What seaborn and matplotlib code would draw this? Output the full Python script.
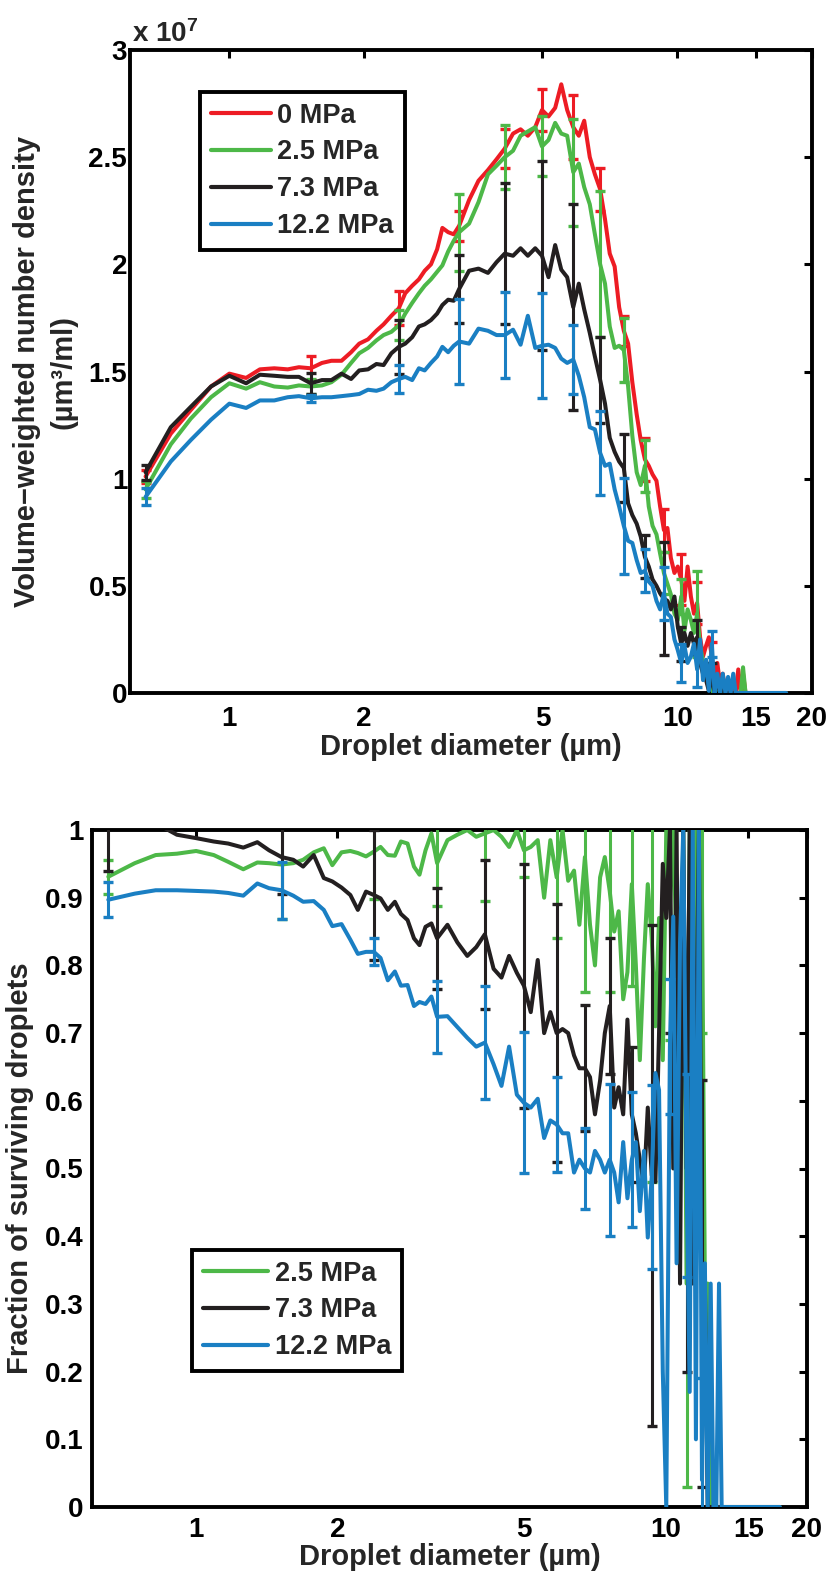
import numpy as np
import matplotlib
matplotlib.use("Agg")
import matplotlib.pyplot as plt
import seaborn as sns
from matplotlib.ticker import FixedLocator, FuncFormatter, NullLocator
from matplotlib.lines import Line2D

sns.set_style("white")
plt.rcParams['font.family'] = ['Liberation Sans', 'DejaVu Sans']
plt.rcParams['font.weight'] = 'bold'
plt.rcParams['mathtext.fontset'] = 'custom'
plt.rcParams['mathtext.rm'] = 'Liberation Sans:bold'
plt.rcParams['mathtext.bf'] = 'Liberation Sans:bold'
plt.rcParams['mathtext.default'] = 'bf'

# ---------------- data ----------------
diameter = [0.65, 0.74, 0.82, 0.91, 1.00, 1.09, 1.17, 1.26, 1.35, 1.43,
            1.52, 1.61, 1.69, 1.78, 1.87, 1.95, 2.04, 2.13, 2.21, 2.30,
            2.39, 2.47, 2.56, 2.65, 2.73, 2.82, 2.91, 2.99, 3.08, 3.17,
            3.26, 3.43, 3.60, 3.78, 3.95, 4.12, 4.30, 4.47, 4.64, 4.82,
            4.99, 5.16, 5.34, 5.51, 5.68, 5.86, 6.03, 6.20, 6.38, 6.55,
            6.73, 6.90, 7.07, 7.25, 7.42, 7.60, 7.77, 7.94, 8.12, 8.29,
            8.47, 8.64, 8.81, 8.99, 9.16, 9.34, 9.51, 9.68, 9.86, 10.03,
            10.21, 10.38, 10.55, 10.73, 10.90, 11.08, 11.25, 11.42, 11.60, 11.77,
            11.95, 12.12, 12.29, 12.47, 12.64, 12.82, 12.99, 13.16, 13.34, 13.51,
            13.69, 13.86, 14.03, 14.21, 14.38, 14.56, 14.73, 14.90, 15.08, 15.25,
            15.43, 15.60, 15.77, 15.95, 16.12, 16.30, 16.47, 16.64, 16.82, 16.99,
            17.17, 17.34, 17.51]

# volume-weighted number density, units of 1e6 um^3/ml
vol_0 = [10.1, 12.1, 13.2, 14.3, 14.9, 14.7, 15.1, 15.15, 15.1, 15.2,
         15.15, 15.4, 15.5, 15.5, 15.9, 16.3, 16.5, 16.9, 17.2, 17.6,
         17.95, 18.65, 19.0, 19.3, 19.7, 20.0, 20.7, 21.7, 21.5, 21.4,
         21.8, 23.0, 23.9, 24.4, 24.9, 25.4, 26.1, 26.3, 26.0, 26.4,
         27.2, 26.9, 27.3, 28.4, 27.2, 26.4, 26.0, 26.7, 25.0, 24.2,
         23.5, 22.1, 20.5, 19.9, 18.0, 16.9, 16.3, 14.5, 13.0, 11.8,
         10.9, 10.6, 10.2, 9.9, 8.7, 7.6, 7.7, 6.3, 5.6, 5.9,
         5.3, 4.3, 5.9, 4.5, 3.7, 4.2, 2.6, 1.7, 2.2, 2.6,
         1.7, 0.6, 1.4, 0.4, 0.9, 0.0, 0.6, 0.0, 0.6, 0.0,
         1.1, 0.0, 0.9, 0, 0, 0, 0, 0, 0, 0,
         0, 0, 0, 0, 0, 0, 0, 0, 0, 0,
         0, 0, 0]
vol_25 = [9.5, 11.6, 12.8, 13.8, 14.45, 14.2, 14.5, 14.3, 14.25, 14.35,
          14.3, 14.35, 14.5, 14.85, 15.4, 15.85, 16.1, 16.45, 16.7, 16.85,
          17.15, 17.7, 18.2, 18.65, 19.0, 19.3, 19.65, 19.95, 20.6, 21.1,
          21.5, 21.9, 22.9, 24.2, 24.6, 25.0, 25.3, 26.0, 26.2, 26.4,
          25.5, 25.8, 26.6, 26.1, 26.0, 24.3, 24.7, 23.6, 22.8, 21.4,
          20.0, 19.1, 17.1, 16.1, 16.2, 16.0, 14.3, 12.0, 10.3, 9.7,
          10.6, 8.7, 7.8, 7.4, 6.5, 5.6, 5.1, 4.6, 3.7, 3.4,
          4.5, 2.9, 3.9, 3.4, 2.8, 3.7, 2.2, 1.5, 1.1, 0.6,
          0.3, 0.0, 0.5, 0.0, 0.4, 0, 0, 0, 0, 0,
          0, 0, 1.2, 0, 0, 0, 0, 0, 0, 0,
          0, 0, 0, 0, 0, 0, 0, 0, 0, 0,
          0, 0, 0]
vol_73 = [10.3, 12.4, 13.35, 14.3, 14.8, 14.45, 14.85, 14.8, 14.75, 14.75,
          14.45, 14.6, 14.6, 14.9, 14.65, 15.05, 15.1, 15.35, 15.3, 15.85,
          16.15, 16.3, 16.6, 17.1, 17.2, 17.4, 17.7, 18.1, 18.35, 18.3,
          18.85, 19.7, 19.8, 19.6, 20.1, 20.5, 20.4, 20.75, 20.4, 20.75,
          20.4, 19.4, 20.9, 19.75, 19.4, 18.0, 19.1, 17.9, 16.8, 15.7,
          14.6, 13.5, 11.9, 11.25, 10.8, 10.5, 8.85, 8.3, 7.9, 7.3,
          6.35, 5.9, 5.3, 5.0, 4.65, 4.4, 4.3, 3.9, 4.5, 3.1,
          2.3, 2.8, 2.2, 2.8, 2.3, 2.6, 1.4, 0.9, 0.6, 0.1,
          0.9, 0.0, 0.6, 0.0, 0.3, 0, 0, 0, 0, 0,
          0, 0, 0, 0, 0, 0, 0, 0, 0, 0,
          0, 0, 0, 0, 0, 0, 0, 0, 0, 0,
          0, 0, 0]
vol_122 = [9.15, 10.8, 11.8, 12.75, 13.5, 13.3, 13.65, 13.65, 13.8, 13.85,
           13.75, 13.8, 13.8, 13.85, 13.9, 13.95, 14.15, 14.1, 14.2, 14.5,
           14.65, 14.75, 14.6, 15.15, 15.05, 15.4, 15.7, 16.15, 15.9, 16.2,
           16.4, 16.3, 17.0, 16.9, 16.7, 16.7, 16.95, 16.25, 17.6, 16.1,
           16.2, 16.25, 16.1, 15.6, 15.4, 15.55, 14.8, 13.8, 12.4, 12.3,
           11.2, 10.6, 10.7, 9.5, 8.7, 7.8, 7.1, 7.0, 6.2, 5.6,
           5.7, 5.2, 5.0, 4.3, 3.9, 4.65, 3.7, 3.55, 2.5, 2.0,
           1.4, 2.2, 1.4, 1.7, 2.3, 1.1, 2.5, 0.6, 1.55, 0.1,
           2.3, 0.0, 0.9, 0.0, 0.9, 0.0, 0.75, 0.0, 0.9, 0,
           0, 0, 0, 0, 0, 0, 0, 0, 0, 0,
           0, 0, 0, 0, 0, 0, 0, 0, 0, 0,
           0, 0, 0]

# fraction of surviving droplets
frac_25 = [0.931, 0.951, 0.963, 0.965, 0.969, 0.963, 0.953, 0.942, 0.952, 0.951,
           0.949, 0.951, 0.956, 0.967, 0.973, 0.948, 0.967, 0.969, 0.966, 0.961,
           0.968, 0.975, 0.963, 0.962, 0.983, 0.980, 0.946, 0.934, 0.970, 0.995,
           0.951, 0.985, 0.993, 1.0, 0.990, 0.995, 1.0, 0.990, 0.975, 1.0,
           0.970, 0.975, 0.985, 0.900, 0.985, 0.930, 1.0, 0.925, 0.940, 0.860,
           0.960, 0.860, 0.800, 0.930, 0.960, 0.910, 0.850, 0.880, 0.750, 0.790,
           0.920, 0.800, 0.660, 0.810, 0.920, 0.840, 0.710, 0.870, 0.660, 1.0,
           0.890, 1.0, 0.820, 0.550, 1.0, 0.330, 1.0, 0.600, 1.0, 0.500,
           0.900, 0.330, 0.330, 0.0, 0, 0, 0, 0, 0, 0,
           0, 0, 0, 0, 0, 0, 0, 0, 0, 0,
           0, 0, 0, 0, 0, 0, 0, 0, 0, 0,
           0, 0, 0]
frac_73 = [1.03, 1.03, 1.01, 0.993, 0.988, 0.983, 0.980, 0.974, 0.982, 0.970,
           0.960, 0.956, 0.946, 0.963, 0.929, 0.924, 0.915, 0.904, 0.882, 0.909,
           0.904, 0.899, 0.882, 0.894, 0.876, 0.867, 0.840, 0.830, 0.857, 0.862,
           0.840, 0.860, 0.834, 0.814, 0.827, 0.846, 0.795, 0.782, 0.814, 0.789,
           0.770, 0.731, 0.808, 0.700, 0.731, 0.700, 0.706, 0.700, 0.667, 0.648,
           0.648, 0.635, 0.580, 0.630, 0.700, 0.740, 0.590, 0.620, 0.580, 0.720,
           0.580, 0.552, 0.513, 0.475, 0.590, 0.490, 0.480, 0.700, 0.950, 0.870,
           1.0, 0.500, 1.0, 0.330, 1.0, 0.500, 1.0, 0.330, 0.670, 1.0,
           0.330, 0.330, 0.0, 0, 0, 0, 0, 0, 0, 0,
           0, 0, 0, 0, 0, 0, 0, 0, 0, 0,
           0, 0, 0, 0, 0, 0, 0, 0, 0, 0,
           0, 0, 0]
frac_122 = [0.897, 0.906, 0.911, 0.911, 0.910, 0.909, 0.907, 0.903, 0.921, 0.914,
            0.911, 0.903, 0.894, 0.895, 0.882, 0.858, 0.861, 0.838, 0.817, 0.820,
            0.820, 0.811, 0.778, 0.791, 0.770, 0.771, 0.740, 0.746, 0.743, 0.754,
            0.724, 0.725, 0.709, 0.693, 0.680, 0.686, 0.654, 0.622, 0.680, 0.609,
            0.597, 0.590, 0.603, 0.545, 0.571, 0.565, 0.552, 0.552, 0.494, 0.513,
            0.500, 0.494, 0.526, 0.513, 0.494, 0.513, 0.494, 0.450, 0.539, 0.456,
            0.513, 0.539, 0.437, 0.526, 0.398, 0.488, 0.641, 0.616, 0.200, 0.0,
            0.680, 0.872, 0.360, 0.834, 1.0, 0.490, 0.170, 1.0, 0.100, 1.0,
            0.040, 0.360, 0.0, 0.330, 0.0, 0.0, 0.330, 0, 0, 0,
            0, 0, 0, 0, 0, 0, 0, 0, 0, 0,
            0, 0, 0, 0, 0, 0, 0, 0, 0, 0,
            0, 0, 0]

# error bars (half widths) at these diameters
eb_x = [0.65, 1.52, 2.39, 3.26, 4.12, 4.99, 5.86, 6.73, 7.60, 8.47, 9.34, 10.21, 11.08, 11.95]
err_vol_0 = [0.3, 0.55, 0.8, 0.7, 0.9, 1.0, 1.5, 1.0, 0.7, 1.0, 1.0, 1.2, 1.0, 0.7]
err_vol_25 = [0.4, 0.35, 0.7, 1.8, 1.5, 1.4, 2.5, 3.4, 1.5, 1.2, 1.0, 0.8, 2.0, 0.5]
err_vol_73 = [0.35, 0.5, 1.25, 1.6, 3.3, 4.4, 4.8, 2.0, 1.6, 1.0, 2.65, 0.8, 0.8, 0.5]
err_vol_122 = [0.4, 0.15, 0.65, 2.0, 2.0, 2.45, 1.6, 1.95, 2.25, 1.0, 1.25, 0.9, 0.8, 0.6]
err_frac_25 = [0.025, 0.08, 0.07, 0.063, 0.1, 0.04, 0.09, 0.2, 0.15, 0.15, 0.36, 0.2, 0.3, 0.2]
err_frac_73 = [0.09, 0.055, 0.096, 0.075, 0.11, 0.18, 0.19, 0.093, 0.1, 0.1, 0.37, 0.3, 0.3, 0.3]
err_frac_122 = [0.026, 0.042, 0.02, 0.053, 0.083, 0.104, 0.07, 0.06, 0.112, 0.1, 0.136, 0.1, 0.15, 0.15]

labels_top = ["0 MPa", "2.5 MPa", "7.3 MPa", "12.2 MPa"]
labels_bot = ["2.5 MPa", "7.3 MPa", "12.2 MPa"]
x_ticks = [1, 2, 5, 10, 15, 20]

RED, GREEN, BLACK, BLUE = "#ED1C24", "#4DB848", "#231F20", "#1A7FC3"
LW = 2.9
TICK_FS = 20
LABEL_FS = 21
LEG_FS = 19.5

fig = plt.figure(figsize=(8.28, 15.76), dpi=100)
ax1 = fig.add_axes([130 / 828, 1 - 693 / 1576, 682 / 828, 643 / 1576])
ax2 = fig.add_axes([92 / 828, 1 - 1507 / 1576, 715 / 828, 677 / 1576])


def draw(ax, ys, err, color, z, scale=1.0):
    yv = np.asarray(ys, dtype=float) * scale
    sns.lineplot(x=diameter, y=yv, ax=ax, color=color, linewidth=LW,
                 estimator=None, sort=False, zorder=z)
    idx = [diameter.index(v) for v in eb_x]
    ax.errorbar([diameter[i] for i in idx], [yv[i] for i in idx],
                yerr=np.asarray(err) * scale, fmt='none', ecolor=color,
                elinewidth=2.2, capsize=3.8, capthick=2.4, zorder=z)


draw(ax1, vol_0, err_vol_0, RED, 2.0, 1e6)
draw(ax1, vol_25, err_vol_25, GREEN, 2.1, 1e6)
draw(ax1, vol_73, err_vol_73, BLACK, 2.2, 1e6)
draw(ax1, vol_122, err_vol_122, BLUE, 2.3, 1e6)

draw(ax2, frac_25, err_frac_25, GREEN, 2.1)
draw(ax2, frac_73, err_frac_73, BLACK, 2.2)
draw(ax2, frac_122, err_frac_122, BLUE, 2.3)

for ax in (ax1, ax2):
    ax.set_xscale('log')
    ax.set_xlim(0.6, 20)
    ax.xaxis.set_major_locator(FixedLocator(x_ticks))
    ax.xaxis.set_minor_locator(NullLocator())
    ax.xaxis.set_major_formatter(FuncFormatter(lambda v, p: f"{v:g}"))
    ax.tick_params(axis='both', which='major', direction='in', length=6, width=2.2,
                   top=True, right=True, labelsize=TICK_FS, colors='black')
    ax.tick_params(axis='x', pad=9)
    for sp in ax.spines.values():
        sp.set_linewidth(2.8)
        sp.set_color('black')
        sp.set_zorder(1.5)
    ax.set_xlabel("Droplet diameter (µm)", fontsize=LABEL_FS, fontweight='bold')

ax1.set_ylim(0, 3e7)
ax1.yaxis.set_major_locator(FixedLocator([0, 0.5e7, 1e7, 1.5e7, 2e7, 2.5e7, 3e7]))
ax1.yaxis.set_major_formatter(FuncFormatter(lambda v, p: f"{v / 1e7:g}"))
ax1.tick_params(axis='y', pad=2)
ax1.set_ylabel("Volume\u2212weighted number density\n(µm³/ml)", fontsize=LABEL_FS,
               fontweight='bold', linespacing=1.4, labelpad=8)
ax1.xaxis.labelpad = 1
ax1.text(0.003, 1.012, r"x 10$^{7}$", transform=ax1.transAxes, ha='left',
         va='baseline', fontsize=TICK_FS, fontweight='bold')

ax2.set_ylim(0, 1)
ax2.yaxis.set_major_locator(FixedLocator([0, 0.1, 0.2, 0.3, 0.4, 0.5, 0.6, 0.7, 0.8, 0.9, 1.0]))
ax2.yaxis.set_major_formatter(FuncFormatter(lambda v, p: f"{v:g}"))
ax2.tick_params(axis='y', pad=6)
ax2.tick_params(axis='x', pad=7)
ax2.set_ylabel("Fraction of surviving droplets", fontsize=LABEL_FS, fontweight='bold', labelpad=8)
ax2.xaxis.labelpad = 0

for ax in (ax1, ax2):
    for lab in ax.get_xticklabels() + ax.get_yticklabels():
        lab.set_fontweight('bold')

h_top = [Line2D([], [], color=c, lw=3.0) for c in (RED, GREEN, BLACK, BLUE)]
leg1 = ax1.legend(h_top, labels_top, loc='upper left', bbox_to_anchor=(0.103, 0.935),
                  borderaxespad=0, frameon=True, fancybox=False, framealpha=1,
                  edgecolor='black', prop={'weight': 'bold', 'size': LEG_FS},
                  handlelength=2.2, handletextpad=0.25, labelspacing=0.4, borderpad=0.4)
leg1.get_frame().set_linewidth(2.8)

h_bot = [Line2D([], [], color=c, lw=3.0) for c in (GREEN, BLACK, BLUE)]
leg2 = ax2.legend(h_bot, labels_bot, loc='upper left', bbox_to_anchor=(0.14, 0.38),
                  borderaxespad=0, frameon=True, fancybox=False, framealpha=1,
                  edgecolor='black', prop={'weight': 'bold', 'size': LEG_FS},
                  handlelength=2.4, handletextpad=0.25, labelspacing=0.4, borderpad=0.4)
leg2.get_frame().set_linewidth(2.8)

fig.savefig("out.png", dpi=100, facecolor='white')
